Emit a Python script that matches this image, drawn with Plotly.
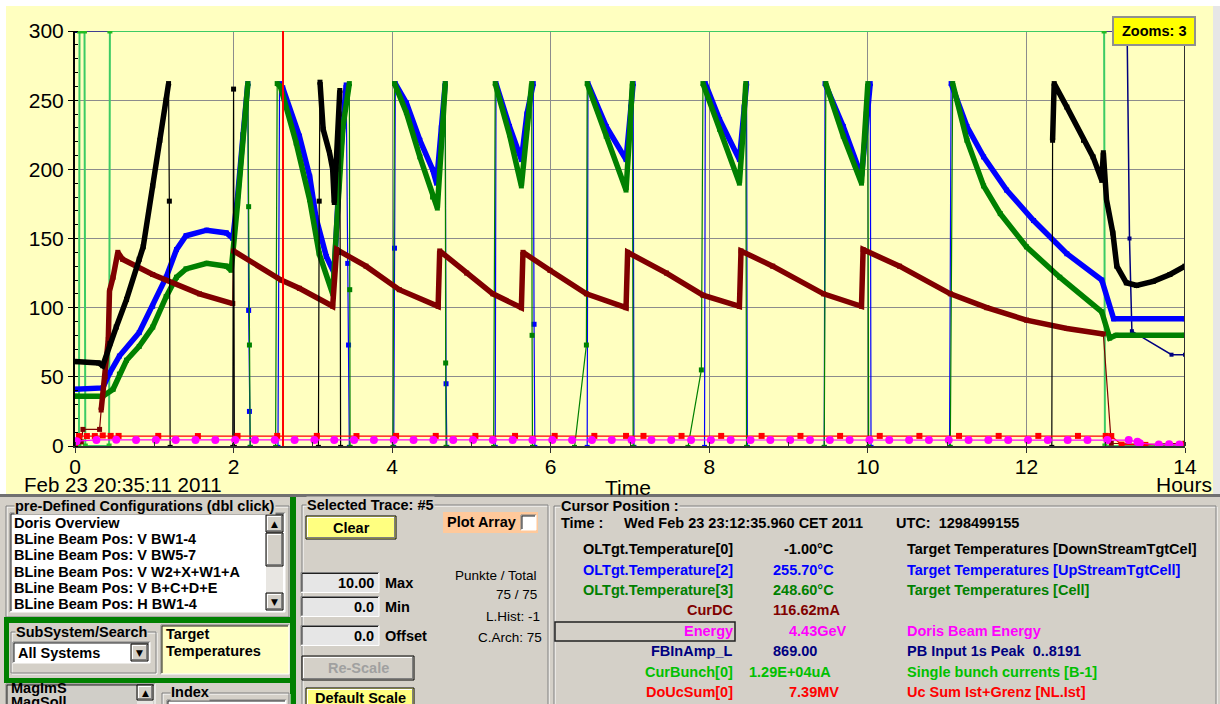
import datetime
import plotly.graph_objects as go

# ---------------- data (hours since start of plot) ----------------
start_time = datetime.datetime(2011, 2, 23, 20, 35, 11)
cursor_time = datetime.datetime(2011, 2, 23, 23, 12, 35, 960000)

x_ticks = [0, 2, 4, 6, 8, 10, 12, 14]
y_ticks = [0, 50, 100, 150, 200, 250, 300]

# OLTgt.Temperature[0]  (black)
black_t = [0.00, 0.30, 0.35, 0.44, 0.52, 0.65, 0.81, 0.86, 0.98, 1.07, 1.15, 1.18, 1.19, 1.20,
           1.99, 2.00, 2.01, 3.07, 3.08, 3.09, 3.13, 3.21, 3.25, 3.27, 3.29, 3.33, 3.34, 3.35,
           12.32, 12.33, 12.35, 12.51, 12.72, 12.84, 12.95, 12.97, 13.01, 13.09, 13.14, 13.26,
           13.39, 13.60, 13.81, 14.00]
black_v = [61, 60, 58, 74, 86, 106, 135, 144, 188, 221, 250, 262, 177, -1,
           -1, 258, -1, -1, 177, 263, 229, 212, 200, 176, 200, 240, 257, -1,
           -1, 221, 262, 245, 221, 209, 192, 212, 178, 154, 130, 118,
           116, 119, 124, 130]

# OLTgt.Temperature[2]  (blue)
blue_t = [0.00, 0.35, 0.44, 0.56, 0.81, 0.98, 1.15, 1.28, 1.40, 1.66, 1.91, 1.99, 2.05, 2.12, 2.18, 2.19, 2.20, 2.21,
          2.56, 2.58, 2.62, 2.83, 2.96, 3.04, 3.17, 3.27, 3.34, 3.42, 3.44, 3.45, 3.46,
          4.02, 4.03, 4.04, 4.18, 4.35, 4.51, 4.56, 4.62, 4.67, 4.68, 4.69,
          5.30, 5.31, 5.48, 5.63, 5.70, 5.78, 5.79, 5.80,
          6.46, 6.47, 6.70, 6.95, 7.01, 7.04, 7.05,
          7.94, 7.95, 8.13, 8.38, 8.44, 8.47, 8.48,
          9.45, 9.46, 9.69, 9.92, 9.99, 10.03, 10.04,
          11.03, 11.05, 11.25, 11.46, 11.75, 12.09, 12.51, 12.95, 13.10, 14.00]
blue_v = [41, 42, 53, 65, 82, 101, 122, 142, 152, 156, 154, 150, 180, 225, 262, 98, 25, -1,
          -1, 262, 259, 224, 195, 165, 137, 125, 204, 261, 132, 73, -1,
          -1, 143, 262, 248, 221, 200, 190, 230, 262, 45, -1,
          -1, 262, 231, 207, 240, 262, 88, -1,
          -1, 262, 231, 207, 245, 262, -1,
          -1, 262, 236, 207, 245, 262, -1,
          -1, 262, 231, 195, 240, 262, -1,
          -1, 262, 231, 209, 185, 163, 139, 120, 92, 92]

# OLTgt.Temperature[3]  (dark green)
green_t = [0.00, 0.35, 0.48, 0.56, 0.65, 0.81, 0.98, 1.15, 1.28, 1.40, 1.66, 1.91, 1.97, 2.05, 2.12, 2.18, 2.19, 2.20, 2.21,
           2.53, 2.55, 2.59, 2.79, 2.96, 3.08, 3.25, 3.30, 3.38, 3.46, 3.465, 3.47,
           4.01, 4.03, 4.18, 4.35, 4.51, 4.57, 4.63, 4.67, 4.675, 4.68,
           5.28, 5.30, 5.48, 5.63, 5.70, 5.76, 5.765, 5.77,
           6.30, 6.45, 6.46, 6.70, 6.95, 7.00, 7.03, 7.04,
           7.73, 7.90, 7.92, 8.13, 8.38, 8.43, 8.46, 8.47,
           9.45, 9.47, 9.69, 9.92, 9.98, 10.00, 10.01,
           11.04, 11.07, 11.25, 11.46, 11.67, 12.00, 12.42, 12.95, 13.05, 13.13, 14.00]
green_v = [36, 36, 41, 52, 62, 72, 86, 108, 122, 128, 132, 130, 127, 175, 225, 262, 173, 73, -1,
           -1, 262, 260, 219, 178, 139, 110, 159, 231, 262, 113, -1,
           -1, 262, 241, 209, 180, 172, 225, 262, 60, -1,
           -1, 262, 225, 188, 230, 262, 80, -1,
           -1, 73, 262, 224, 185, 230, 262, -1,
           -1, 55, 262, 229, 190, 230, 262, -1,
           -1, 262, 224, 190, 240, 262, -1,
           -1, 262, 221, 188, 168, 144, 122, 97, 78, 80, 80]

# CurDC  (maroon)
maroon_t = [0.00, 0.08, 0.10, 0.31, 0.33, 0.38, 0.42, 0.435, 0.48, 0.54, 0.60, 0.98, 1.57, 1.99,
            2.00, 2.60, 2.83, 3.25,
            3.30, 3.67, 4.09, 4.58,
            4.60, 4.94, 5.27, 5.63,
            5.65, 5.99, 6.45, 6.95,
            6.97, 7.46, 7.92, 8.38,
            8.40, 8.80, 9.44, 9.92,
            9.94, 10.40, 11.04, 11.50, 12.00, 12.51, 12.97, 13.07, 13.50, 14.00]
maroon_v = [2, 3, 12, 12, 26, 50, 77, 112, 122, 140, 135, 124, 110, 103,
            141, 120, 114, 101,
            142, 130, 113, 101,
            141, 125, 110, 100,
            140, 127, 110, 100,
            140, 125, 109, 101,
            141, 130, 110, 101,
            142, 130, 110, 100, 91, 85, 81, 2, 1, 2]

# DoUcSum[0]  (red)
red_t = [0.00, 0.05, 0.15, 0.25, 0.35, 0.45, 0.55, 1.05, 1.55, 2.05, 2.55, 3.05, 3.55, 4.05, 4.55,
         5.05, 5.55, 6.05, 6.55, 6.95, 7.17, 7.65, 8.15, 8.66, 9.15, 9.65, 10.15, 10.65, 11.15,
         11.65, 12.15, 12.65, 13.00, 13.07, 13.20, 13.50, 13.80, 14.00]
red_v = [2.0, 7.2, 7.2, 7.2, 7.6, 7.3, 7.3, 7.3, 7.2, 7.3, 7.3, 7.3, 7.2, 7.3, 7.3,
         7.3, 7.3, 7.3, 7.3, 7.3, 7.3, 7.3, 7.3, 7.3, 7.3, 7.3, 7.3, 7.3, 7.3,
         7.3, 7.3, 7.3, 7.3, 7.2, 1.0, 0.8, 0.9, 1.0]

# Energy  (magenta)
mag_t = [0.02, 0.27, 0.52, 0.77, 1.02, 1.27, 1.52, 1.77, 2.02, 2.27, 2.52, 2.77, 3.02, 3.27,
         3.52, 3.77, 4.02, 4.27, 4.52, 4.77, 5.02, 5.27, 5.52, 5.77, 6.02, 6.27, 6.52, 6.77,
         7.02, 7.27, 7.52, 7.77, 8.02, 8.27, 8.52, 8.77, 9.02, 9.27, 9.52, 9.77, 10.02, 10.27,
         10.52, 10.77, 11.02, 11.27, 11.52, 11.77, 12.02, 12.27, 12.52, 12.77, 13.02,
         13.29, 13.40, 13.43, 13.67, 13.80, 13.93]
mag_v = [3.5, 4.4, 4.5, 4.4, 4.4, 4.4, 4.4, 4.4, 4.4, 4.4, 4.4, 4.4, 4.4, 4.4,
         4.4, 4.4, 4.4, 4.4, 4.4, 4.4, 4.4, 4.4, 4.4, 4.4, 4.4, 4.4, 4.4, 4.4,
         4.4, 4.4, 4.4, 4.4, 4.4, 4.4, 4.4, 4.4, 4.4, 4.4, 4.4, 4.4, 4.4, 4.4,
         4.4, 4.4, 4.4, 4.4, 4.4, 4.4, 4.4, 4.4, 4.4, 4.4, 4.4,
         4.3, 3.0, 2.0, 1.0, 1.2, 1.0]

# CurBunch[0]  (light green, mostly far above the scale)
cb_t = [0.00, 0.05, 0.057, 0.12, 0.13, 0.43, 0.44, 12.98, 12.99, 13.20, 13.45, 13.73, 14.00]
cb_v = [0, 0, 12900, 12900, 0, 0, 12900, 12900, 0, 0, 0, 0, 0]

# FBInAmp_L  (navy, above the scale until the end)
fb_t = [0.00, 13.27, 13.30, 13.33, 13.83, 14.00]
fb_v = [869, 869, 150, 83, 66, 66]

# cursor panel content
cursor_names = ["OLTgt.Temperature[0]", "OLTgt.Temperature[2]", "OLTgt.Temperature[3]", "CurDC",
                "Energy", "FBInAmp_L", "CurBunch[0]", "DoUcSum[0]"]
cursor_values = ["-1.00°C", "255.70°C", "248.60°C", "116.62mA", "4.43GeV", "869.00",
                 "1.29E+04uA", "7.39MV"]
cursor_desc = ["Target Temperatures [DownStreamTgtCel]", "Target Temperatures [UpStreamTgtCell]",
               "Target Temperatures [Cell]", "", "Doris Beam Energy", "PB Input 1s Peak  0..8191",
               "Single bunch currents [B-1]", "Uc Sum Ist+Grenz [NL.Ist]"]
config_items = ["Doris Overview", "BLine Beam Pos: V BW1-4", "BLine Beam Pos: V BW5-7",
                "BLine Beam Pos: V W2+X+W1+A", "BLine Beam Pos: V B+C+D+E", "BLine Beam Pos: H BW1-4"]

# ---------------- styling / geometry ----------------
W, H = 1220, 704
ML, MR, MT, MB = 75, 35, 31, 258
Y_MAX = 300
FONT = "Liberation Sans, Arial, sans-serif"
PANEL = "#D4D0C8"
row_colors = ["#000000", "#0000FF", "#008000", "#800000", "#FF00FF", "#000080", "#00C000", "#FF0000"]


def X(px):
    return (px - ML) / (W - ML - MR)


def Y(py):
    return (H - MB - py) / (H - MT - MB)


def clamp(vals):
    return [min(v, Y_MAX) for v in vals]


def thick_path(t, v):
    xs, ys = [], []
    for i in range(len(t)):
        if i > 0:
            dt = t[i] - t[i - 1]
            dv = v[i] - v[i - 1]
            ok = v[i] > 15 and v[i - 1] > 15 and abs(dv) <= 2500 * dt
            if not ok:
                xs.append(None)
                ys.append(None)
        xs.append(t[i])
        ys.append(min(v[i], Y_MAX) if v[i] > 15 else None)
    return xs, ys


fig = go.Figure()

# off-scale traces (clamped at the top like the original display)
fig.add_trace(go.Scatter(x=fb_t, y=clamp(fb_v), mode="lines+markers",
                         line=dict(color="#000080", width=1.5),
                         marker=dict(symbol="square", size=4, color="#000080"), hoverinfo="skip"))
fig.add_trace(go.Scatter(x=cb_t, y=clamp(cb_v), mode="lines+markers",
                         line=dict(color="#3CCB64", width=2),
                         marker=dict(symbol="square", size=5, color="#22BB22"), hoverinfo="skip"))

series = [
    (blue_t, blue_v, "#0000FF"),
    (green_t, green_v, "#008000"),
    (maroon_t, maroon_v, "#800000"),
    (black_t, black_v, "#000000"),
]
for t, v, c in series:
    fig.add_trace(go.Scatter(x=t, y=clamp(v), mode="lines+markers",
                             line=dict(color=c, width=1.2),
                             marker=dict(symbol="square", size=5, color=c), hoverinfo="skip"))
    tx, ty = thick_path(t, v)
    fig.add_trace(go.Scatter(x=tx, y=ty, mode="lines", connectgaps=False,
                             line=dict(color=c, width=5.5), hoverinfo="skip"))

fig.add_trace(go.Scatter(x=red_t, y=red_v, mode="lines+markers",
                         line=dict(color="#FF0000", width=1.2),
                         marker=dict(symbol="square", size=6, color="#FF0000"), hoverinfo="skip"))
fig.add_trace(go.Scatter(x=mag_t, y=mag_v, mode="lines+markers",
                         line=dict(color="#FF00FF", width=1.2),
                         marker=dict(symbol="circle", size=8, color="#FF00FF"), hoverinfo="skip"))

cursor_h = (cursor_time - start_time).total_seconds() / 3600.0

shapes = []
annotations = []


def rect(x0, y0, x1, y1, fill=None, line=None, lw=1, layer="above"):
    shapes.append(dict(type="rect", xref="paper", yref="paper",
                       x0=X(x0), x1=X(x1), y0=Y(y1), y1=Y(y0),
                       fillcolor=fill if fill else "rgba(0,0,0,0)",
                       line=dict(color=line if line else "rgba(0,0,0,0)", width=lw if line else 0),
                       layer=layer))


def seg(x0, y0, x1, y1, color, lw=1, layer="above"):
    shapes.append(dict(type="line", xref="paper", yref="paper",
                       x0=X(x0), x1=X(x1), y0=Y(y0), y1=Y(y1),
                       line=dict(color=color, width=lw), layer=layer))


def txt(px, py, s, color="#000000", size=14.5, anchor="left", bold=True, bg=None, family=FONT):
    a = dict(xref="paper", yref="paper", x=X(px), y=Y(py), text=s, showarrow=False,
             xanchor=anchor, yanchor="middle",
             font=dict(family=family, size=size, color=color, weight="bold" if bold else "normal"),
             borderpad=0)
    if bg:
        a["bgcolor"] = bg
    annotations.append(a)


def etched(x0, y0, x1, y1):
    rect(x0 + 1, y0 + 1, x1 + 1, y1 + 1, line="#FFFFFF")
    rect(x0, y0, x1, y1, line="#808080")


def button(x0, y0, x1, y1, fill):
    rect(x0, y0, x1, y1, fill=fill, line="#000000")
    seg(x0 + 1, y0 + 1.5, x1 - 1, y0 + 1.5, "#FFFFFF")
    seg(x0 + 1.5, y0 + 1, x0 + 1.5, y1 - 1, "#FFFFFF")
    seg(x0 + 1, y1 - 1.5, x1 - 1, y1 - 1.5, "#808080")
    seg(x1 - 1.5, y0 + 1, x1 - 1.5, y1 - 1, "#808080")


def sunken(x0, y0, x1, y1, fill):
    rect(x0, y0, x1, y1, fill=fill)
    seg(x0, y0, x1, y0, "#808080")
    seg(x0, y0, x0, y1, "#808080")
    seg(x0 + 1, y0 + 1, x1 - 1, y0 + 1, "#202020")
    seg(x0 + 1, y0 + 1, x0 + 1, y1 - 1, "#202020")
    seg(x0, y1, x1, y1, "#FFFFFF")
    seg(x1, y0, x1, y1, "#FFFFFF")


# ---- chart background ----
rect(0, 0, W, 6, fill="#FFFFFF", layer="below")
rect(0, 0, 6, 494, fill="#FFFFFF", layer="below")
rect(6, 6, 1213, 494, fill="#FFFFC0", layer="below")
rect(1213, 6, W, 494, fill="#E6E6E6", layer="below")
rect(0, 494, W, 497, fill="#707070")

# right frame and cursor line (data coordinates)
shapes.append(dict(type="line", xref="x", yref="y", x0=14, x1=14, y0=0, y1=Y_MAX,
                   line=dict(color="#303030", width=2), layer="above"))
shapes.append(dict(type="line", xref="x", yref="y", x0=cursor_h, x1=cursor_h, y0=0, y1=Y_MAX,
                   line=dict(color="#FF0000", width=2), layer="above"))

# zoom indicator
rect(1113, 17, 1195, 45, fill="#FFFF00", line="#909090", lw=2)
txt(1154, 31, "Zooms: 3", anchor="center")

# axis captions
txt(23, 484, "Feb 23 20:35:11 2011", size=20.5, bold=False)
txt(628, 487, "Time", size=21, bold=False, anchor="center")
txt(1213, 484, "Hours", size=21, bold=False, anchor="right")

# ---- left panel ----
etched(6, 506, 289, 617)
txt(14, 506, "pre-Defined Configurations (dbl click)", bg=PANEL)
sunken(10, 513, 285, 612, "#FFFFFF")
for i, item in enumerate(config_items):
    txt(13, 523 + i * 16.2, item)
rect(266, 515, 283, 610, fill="#E8E6E2")
button(266, 515, 283, 532, PANEL)
txt(274.5, 524, "▲", size=9, anchor="center", family="DejaVu Sans")
button(266, 533, 283, 566, PANEL)
button(266, 593, 283, 610, PANEL)
txt(274.5, 601.5, "▼", size=9, anchor="center", family="DejaVu Sans")

rect(290, 497, 296, H, fill="#008000")
rect(4, 617, 296, 623, fill="#008000")
rect(4, 617, 9, 683, fill="#008000")
rect(4, 678, 296, 683, fill="#008000")

etched(11, 632, 156, 673)
txt(15, 632, "SubSystem/Search", bg=PANEL)
sunken(13, 642, 150, 663, "#FFFFFF")
txt(17, 652.5, "All Systems")
button(131, 644, 148, 661, PANEL)
txt(139.5, 652.5, "▼", size=9, anchor="center", family="DejaVu Sans")

sunken(161, 625, 289, 674, "#FFFFC4")
txt(165, 634, "Target")
txt(165, 651, "Temperatures")

sunken(6, 684, 155, 712, "#D0CEC8")
txt(10, 688, "MagImS")
txt(10, 702, "MagSoll")
rect(137, 685, 153, 712, fill="#E8E6E2")
button(137, 685, 153, 700, PANEL)
txt(145, 692.5, "▲", size=9, anchor="center", family="DejaVu Sans")

etched(162, 693, 289, 712)
txt(170, 692, "Index", bg=PANEL)
sunken(167, 700, 286, 712, "#FFFFFF")

# ---- middle panel ----
etched(302, 505, 548, 712)
txt(306, 505, "Selected Trace: #5", bg=PANEL)
button(306, 516, 396, 539, "#FFFF80")
txt(351, 528, "Clear", anchor="center")
rect(443, 512, 538, 533, fill="#FFC99B")
txt(446, 522, "Plot Array")
sunken(521, 515, 536, 530, "#FFFFFF")

input_vals = ["10.00", "0.0", "0.0"]
input_labels = ["Max", "Min", "Offset"]
input_rows = [582.5, 606.5, 635.5]
for s, lab, yy in zip(input_vals, input_labels, input_rows):
    sunken(301, yy - 10, 379, yy + 10, "#E6E6E6")
    txt(375, yy, s, anchor="right")
    txt(384, yy, lab)

txt(538, 575, "Punkte / Total", size=13.5, bold=False, anchor="right")
txt(538, 594, "75 / 75", size=13.5, bold=False, anchor="right")
txt(541, 616, "L.Hist: -1", size=13.5, bold=False, anchor="right")
txt(543, 637, "C.Arch: 75", size=13.5, bold=False, anchor="right")

button(302, 656, 414, 680, PANEL)
txt(358, 668, "Re-Scale", color="#A0A0A0", anchor="center")
button(306, 688, 414, 712, "#FFFF80")
txt(360, 698, "Default Scale", anchor="center")

# ---- cursor panel ----
etched(554, 506, 1216, 712)
txt(560, 506, "Cursor Position :", bg=PANEL)
txt(560, 523, "Time :")
txt(623, 523, "Wed Feb 23 23:12:35.960 CET 2011")
txt(895, 523, "UTC:  1298499155")
row_y = [549, 569.5, 589.5, 610, 631, 651, 671.5, 692]
value_x = [783, 772, 772, 772, 788, 772, 748, 788]
for i in range(len(cursor_names)):
    c = row_colors[i]
    txt(734, row_y[i], cursor_names[i], color=c, anchor="right")
    txt(value_x[i], row_y[i], cursor_values[i], color=c)
    if cursor_desc[i]:
        txt(906, row_y[i], cursor_desc[i], color=c)
rect(555, 622, 735, 641, line="#202020", lw=1.5)

fig.update_layout(
    width=W, height=H,
    margin=dict(l=ML, r=MR, t=MT, b=MB, pad=0),
    paper_bgcolor=PANEL,
    plot_bgcolor="rgba(0,0,0,0)",
    showlegend=False,
    hovermode=False,
    shapes=shapes,
    annotations=annotations,
    xaxis=dict(range=[0, 14], tickvals=x_ticks, ticktext=[str(v) for v in x_ticks],
               showgrid=True, gridcolor="#8C8C8C", gridwidth=1, zeroline=False,
               showline=True, linecolor="#303030", linewidth=2,
               ticks="outside", ticklen=5, tickcolor="#303030", ticklabelstandoff=-4,
               tickfont=dict(family=FONT, size=21, color="#000000"),
               minor=dict(dtick=1, ticks="inside", ticklen=4, tickcolor="#303030", showgrid=False),
               fixedrange=True),
    yaxis=dict(range=[0, Y_MAX], tickvals=y_ticks, ticktext=[str(v) for v in y_ticks],
               showgrid=True, gridcolor="#8C8C8C", gridwidth=1, zeroline=False,
               showline=True, linecolor="#000000", linewidth=2,
               ticks="outside", ticklen=5, tickcolor="#000000",
               tickfont=dict(family=FONT, size=21, color="#000000"),
               minor=dict(dtick=10, ticks="inside", ticklen=3, tickcolor="#000000", showgrid=False),
               fixedrange=True),
)

fig.write_html("out.html", config={"displayModeBar": False},
               post_script="document.body.style.margin='0';")
